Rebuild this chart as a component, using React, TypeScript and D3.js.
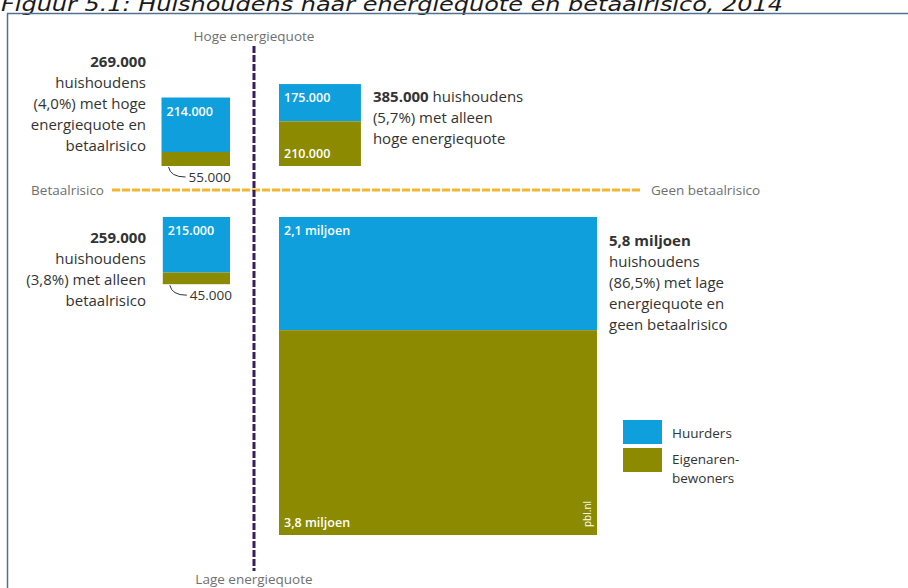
import React from "react";
import * as d3 from "d3";

const W = 908;
const H = 588;

const title = "Figuur 5.1: Huishoudens naar energiequote en betaalrisico, 2014";
const quadrants = ["hoge-risico", "hoge-geen", "lage-risico", "lage-geen"];
const huurders = [214000, 175000, 215000, 2100000];
const eigenaren = [55000, 210000, 45000, 3800000];
const totals = [269000, 385000, 259000, 5800000];
const huurLabels = ["214.000", "175.000", "215.000", "2,1 miljoen"];
const eigenLabels = ["55.000", "210.000", "45.000", "3,8 miljoen"];
const descLines = [
  [["269.000", true], ["huishoudens", false], ["(4,0%) met hoge", false], ["energiequote en", false], ["betaalrisico", false]],
  [["385.000", true, " huishoudens"], ["(5,7%) met alleen", false], ["hoge energiequote", false]],
  [["259.000", true], ["huishoudens", false], ["(3,8%) met alleen", false], ["betaalrisico", false]],
  [["5,8 miljoen", true], ["huishoudens", false], ["(86,5%) met lage", false], ["energiequote en", false], ["geen betaalrisico", false]],
] as any[];
const legendLabels = ["Huurders", ["Eigenaren-", "bewoners"]];
const axisLabels = { top: "Hoge energiequote", bottom: "Lage energiequote", left: "Betaalrisico", right: "Geen betaalrisico" };

const BLUE = "#0f9fdc";
const OLIVE = "#8b8a00";
const FONT = "'Open Sans', sans-serif";

export default function App() {
  const side = d3.scaleSqrt().domain([0, 5800000]).range([0, 318]);
  const cx = 254; // vertical divider
  const cy = 190; // horizontal divider
  const leftEdge = 230, rightStart = 279, topBottom = 166, bottomTop = 217;

  const squares = quadrants.map((q, i) => {
    const s = side(totals[i]);
    const isLeft = i % 2 === 0;
    const isTop = i < 2;
    const x = isLeft ? leftEdge - s : rightStart;
    const y = isTop ? topBottom - s : bottomTop;
    const split = d3.scaleLinear().domain([0, huurders[i] + eigenaren[i]]).range([0, s]);
    return { q, i, s, x, y, hb: split(huurders[i]), isLeft, isTop };
  });

  return (
    <svg width={W} height={H} style={{ position: "absolute", left: 0, top: 0, background: "#fff" }} fontFamily={FONT}>
      <text x={1} y={11} fontFamily="'DejaVu Sans', sans-serif" fontStyle="italic" fontSize={20} fill="#1a1a1a" textLength={782} lengthAdjust="spacingAndGlyphs">{title}</text>
      <path d={`M${W + 5},13.5 H7.5 V${H + 5}`} fill="none" stroke="#52708f" strokeWidth={1.5} />

      {/* axis lines */}
      <line x1={112} x2={641} y1={cy} y2={cy} stroke="#f3b630" strokeWidth={3} strokeDasharray="8 2" />
      <line x1={cx} x2={cx} y1={46} y2={571} stroke="#3a1d5c" strokeWidth={3} strokeDasharray="7 2" />
      <text x={cx} y={41} textAnchor="middle" fontSize={13.5} fill="#707070">{axisLabels.top}</text>
      <text x={cx} y={584} textAnchor="middle" fontSize={13.5} fill="#707070">{axisLabels.bottom}</text>
      <text x={104} y={195} textAnchor="end" fontSize={13.5} fill="#707070">{axisLabels.left}</text>
      <text x={651} y={195} fontSize={13.5} fill="#707070">{axisLabels.right}</text>

      {squares.map((sq) => (
        <g key={sq.q}>
          <rect x={sq.x} y={sq.y} width={sq.s} height={sq.hb} fill={BLUE} />
          <rect x={sq.x} y={sq.y + sq.hb} width={sq.s} height={sq.s - sq.hb} fill={OLIVE} />
          <text x={sq.x + 5} y={sq.y + 18} fontSize={12.5} fontWeight={600} fill="#fff">{huurLabels[sq.i]}</text>
        </g>
      ))}
      {[1, 3].map((i) => {
        const sq = squares[i];
        return <text key={i} x={sq.x + 5} y={sq.y + sq.s - 8} fontSize={12.5} fontWeight={600} fill="#fff">{eigenLabels[i]}</text>;
      })}
      {[0, 2].map((i) => {
        const sq = squares[i];
        const by = sq.y + sq.s;
        return (
          <g key={i}>
            <path d={`M${sq.x + 7},${by + 1} Q${sq.x + 9},${by + 11} ${sq.x + 24},${by + 11}`} fill="none" stroke="#333" strokeWidth={1} />
            <text x={sq.x + 27} y={by + 16} fontSize={13.5} fill="#333">{eigenLabels[i]}</text>
          </g>
        );
      })}
      <text transform={`translate(${squares[3].x + squares[3].s - 6},${squares[3].y + squares[3].s - 8}) rotate(-90)`} fontSize={10} fill="#fff">pbl.nl</text>

      {descLines.map((lines: any[], i: number) => {
        const sq = squares[i];
        const anchorLeft = sq.isLeft;
        const x = anchorLeft ? 146 : sq.x + sq.s + 12;
        const y0 = i === 0 ? 67 : i === 1 ? 102 : i === 2 ? 243 : 246;
        return (
          <text key={i} x={x} textAnchor={anchorLeft ? "end" : "start"} fontSize={15} fill="#333">
            {lines.map((l: any, j: number) => (
              <tspan key={j} x={x} y={y0 + j * 21} fontWeight={l[1] ? 700 : 400}>
                {l[0]}
                {l[2] ? <tspan fontWeight={400}>{l[2]}</tspan> : null}
              </tspan>
            ))}
          </text>
        );
      })}

      <rect x={623} y={420} width={39} height={24} fill={BLUE} />
      <rect x={623} y={448} width={39} height={24} fill={OLIVE} />
      <text x={672} y={438} fontSize={13.5} fill="#333">{legendLabels[0] as string}</text>
      <text x={672} y={464} fontSize={13.5} fill="#333">
        {(legendLabels[1] as string[]).map((t, j) => (
          <tspan key={j} x={672} y={464 + j * 19}>{t}</tspan>
        ))}
      </text>
    </svg>
  );
}
